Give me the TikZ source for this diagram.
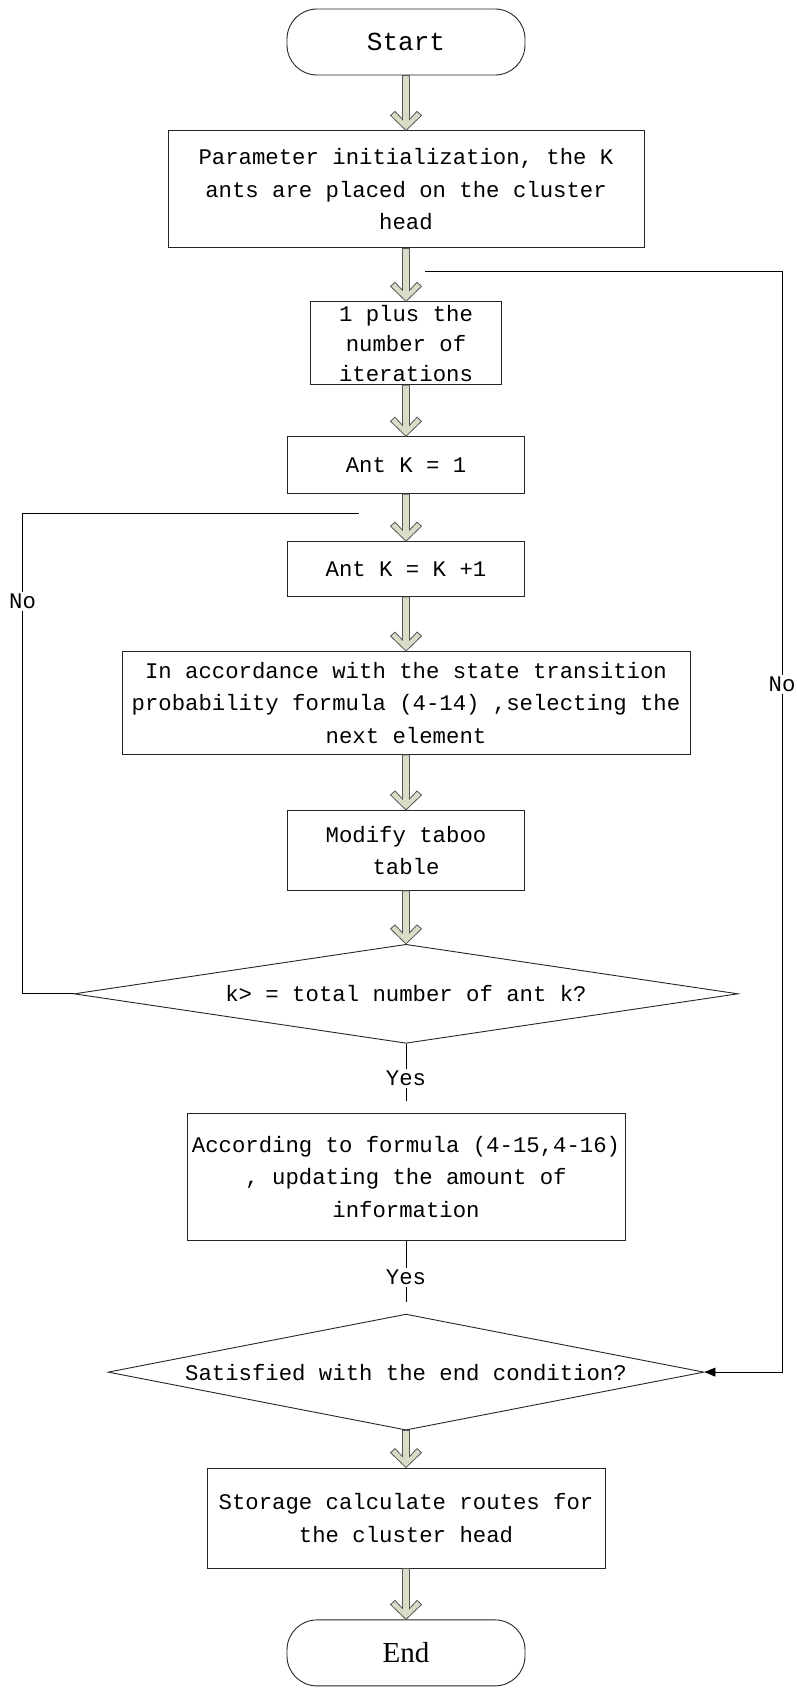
\documentclass[tikz,border=0pt]{standalone}
\usepackage{fontspec}
\setmonofont{Liberation Mono}
\newfontfamily\termfont{Liberation Serif}
\usepackage{tikz}
\usetikzlibrary{calc}
\usetikzlibrary{positioning, arrows.meta, shapes}
\definecolor{arrowfill}{RGB}{216,221,199}
\definecolor{arrowedge}{RGB}{85,85,85}

% hollow block arrow between two stacked nodes
\newcommand{\flowarrow}[2]{%
  \draw[draw=arrowedge, fill=arrowfill, line width=0.8pt, line join=miter]
    let \p1=(#1.south), \p2=(#2.north) in
    (\x1-3.5pt,\y1) -- (\x1-3.5pt,\y2+11pt) -- (\x1-11pt,\y2+19pt)
    -- (\x1-15.5pt,\y2+15pt) -- (\x1,\y2) -- (\x1+15.5pt,\y2+15pt)
    -- (\x1+11pt,\y2+19pt) -- (\x1+3.5pt,\y2+11pt) -- (\x1+3.5pt,\y1) -- cycle;}

\begin{document}
\begin{tikzpicture}[x=1pt, y=1pt,
  every node/.style={font=\fontsize{22.3}{32.5}\selectfont\ttfamily},
  process/.style={rectangle, draw=black!85, line width=0.9pt, align=center, inner sep=1pt},
  terminal/.style={rectangle, rounded corners=30pt, draw=black!85, line width=0.9pt, minimum width=238pt, minimum height=66pt, font=\fontsize{26}{30}\selectfont\ttfamily},
  decision/.style={diamond, draw=black!85, line width=0.9pt, inner sep=1pt},
  lbl/.style={fill=white, inner sep=2pt}]

\useasboundingbox (0,0) rectangle (796,-1690);

% Start
\node[terminal] (start) at (406,-42) {Start};

% Initialization and iteration
\node[process, minimum width=476pt, minimum height=117pt, below=55pt of start] (init) {Parameter initialization, the K\\ants are placed on the cluster\\head};
\node[process, minimum width=191pt, minimum height=83pt, inner sep=0pt, font=\fontsize{22.3}{30}\selectfont\ttfamily, below=53pt of init] (iter) {1 plus the\\number of\\iterations};
\node[process, minimum width=237pt, minimum height=57pt, below=51pt of iter] (ant1) {Ant K = 1};
\node[process, minimum width=237pt, minimum height=55pt, below=47pt of ant1] (antk) {Ant K = K +1};

% Ant tour
\node[process, minimum width=568pt, minimum height=103pt, below=54pt of antk] (select) {In accordance with the state transition\\probability formula (4-14) ,selecting the\\next element};
\node[process, minimum width=237pt, minimum height=80pt, below=55pt of select] (taboo) {Modify taboo\\table};
\node[decision, aspect=6.7, minimum width=664pt, minimum height=99pt, below=53pt of taboo] (check) {k> = total number of ant k?};

% Update and end test
\node[process, minimum width=438pt, minimum height=127pt, below=69pt of check] (update) {According to formula (4-15,4-16)\\, updating the amount of\\information};
\node[decision, aspect=5.14, minimum width=596pt, minimum height=116pt, below=73pt of update] (endq) {Satisfied with the end condition?};
\node[process, minimum width=398pt, minimum height=100pt, below=37pt of endq] (store) {Storage calculate routes for\\the cluster head};

% End
\node[terminal, font=\fontsize{29}{32}\selectfont\termfont, below=51pt of store] (end) {End};

% Block arrows
\flowarrow{start}{init}
\flowarrow{init}{iter}
\flowarrow{iter}{ant1}
\flowarrow{ant1}{antk}
\flowarrow{antk}{select}
\flowarrow{select}{taboo}
\flowarrow{taboo}{check}
\flowarrow{endq}{store}
\flowarrow{store}{end}

% Yes branches
\draw[line width=0.8pt, shorten >=12pt] (check.south) -- node[lbl, pos=0.5] {Yes} (update.north);
\draw[line width=0.8pt, shorten >=12pt] (update.south) -- node[lbl, pos=0.5] {Yes} (endq.north);

% No loops
\coordinate (retL) at ([xshift=-47pt, yshift=-19pt]ant1.south);
\coordinate (retR) at ([xshift=19pt, yshift=-23pt]init.south);
\draw[line width=0.8pt] (check.west) -- ++(-51,0) coordinate (lc) -- node[lbl, pos=0.817] {No} (lc |- retL) -- (retL);
\draw[line width=0.8pt, -{Triangle[length=11pt, width=9pt]}] (retR) -- ++(357,0) coordinate (rc) -- node[lbl, pos=0.375] {No} (rc |- endq.east) -- (endq.east);

\end{tikzpicture}
\end{document}
